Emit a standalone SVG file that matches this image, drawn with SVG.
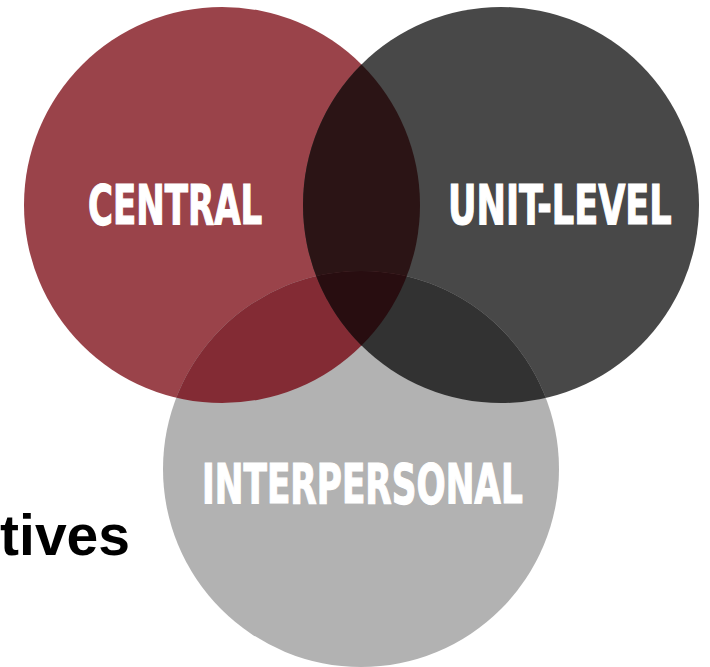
<svg xmlns="http://www.w3.org/2000/svg" width="710" height="667" viewBox="0 0 710 667">
<style>
.lbl{font-family:"DejaVu Sans Condensed","Liberation Sans",sans-serif;font-weight:bold;font-size:56px;fill:#ffffff;stroke:#ffffff;stroke-width:1.2}
.side{font-family:"Liberation Sans",Arial,sans-serif;font-weight:bold;font-size:57px;fill:#000000}
</style>
<defs>
<clipPath id="cRed"><circle cx="222" cy="205" r="198"/></clipPath>
<clipPath id="cDark"><circle cx="501" cy="205" r="198"/></clipPath>
<clipPath id="cGray"><circle cx="361" cy="469" r="198"/></clipPath>
</defs>
<rect width="710" height="667" fill="#ffffff"/>
<text class="side" x="130" y="555" text-anchor="end">tives</text>
<g id="central">
<circle cx="222" cy="205" r="198" fill="#9a434a"/>
</g>
<g id="unit-level">
<circle cx="501" cy="205" r="198" fill="#484848"/>
</g>
<g id="interpersonal">
<circle cx="361" cy="469" r="198" fill="#b2b2b2"/>
</g>
<g id="overlaps">
<circle cx="501" cy="205" r="198" fill="#2b1415" clip-path="url(#cRed)"/>
<circle cx="361" cy="469" r="198" fill="#832b34" clip-path="url(#cRed)"/>
<circle cx="361" cy="469" r="198" fill="#323232" clip-path="url(#cDark)"/>
<g clip-path="url(#cRed)"><circle cx="361" cy="469" r="198" fill="#280d10" clip-path="url(#cDark)"/></g>
</g>
<g id="labels">
<text class="lbl" transform="translate(88,224) scale(0.66,1)" x="0" y="0" textLength="264" lengthAdjust="spacingAndGlyphs">CENTRAL</text>
<text class="lbl" transform="translate(448,224) scale(0.66,1)" x="0" y="0" textLength="339" lengthAdjust="spacingAndGlyphs">UNIT-LEVEL</text>
<text class="lbl" transform="translate(202,503) scale(0.66,1)" x="0" y="0" textLength="486" lengthAdjust="spacingAndGlyphs">INTERPERSONAL</text>
</g>
</svg>
